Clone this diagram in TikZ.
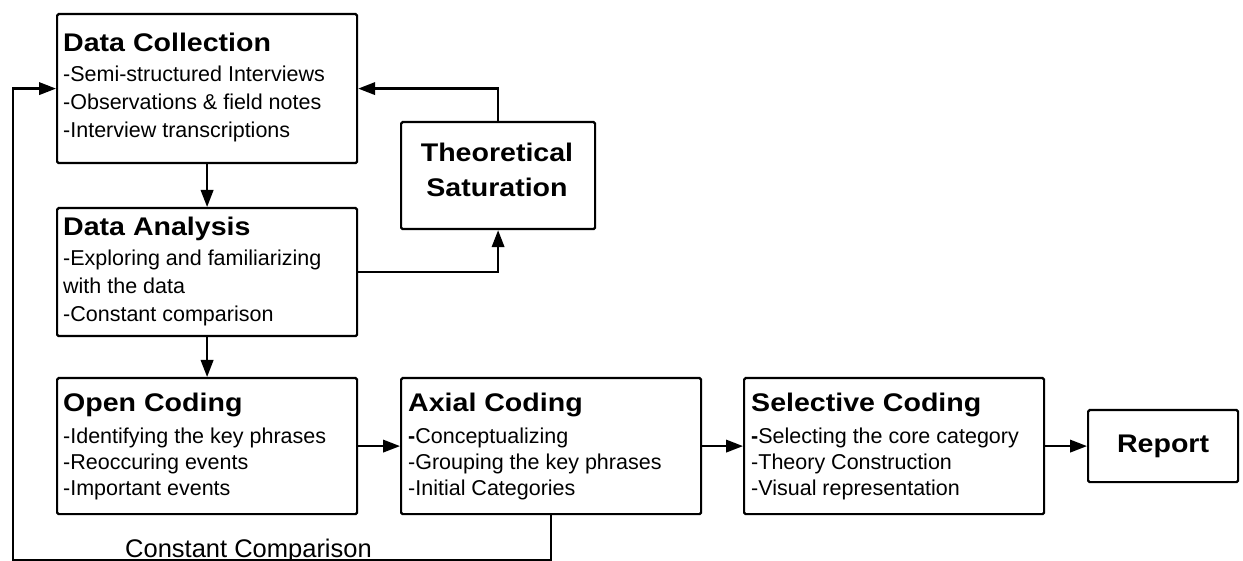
\documentclass[tikz,border=0pt]{standalone}
\usepackage{fontspec}
\setmainfont{Liberation Sans}
\newfontfamily\titlefont{Liberation Sans}[FakeStretch=1.12]
\usetikzlibrary{arrows.meta}
\begin{document}
\begin{tikzpicture}[x=1pt,y=-1pt,
  box/.style={draw, line width=2.2pt, rounded corners=1.5pt, inner sep=0pt, anchor=north west},
  conn/.style={line width=2.2pt, -{Triangle[length=17pt,width=12.5pt]}},
  ttl/.style={anchor=base west, inner sep=0pt, font=\titlefont\bfseries\fontsize{25.5}{30}\selectfont},
  ctr/.style={anchor=base, inner sep=0pt, font=\titlefont\bfseries\fontsize{25.5}{30}\selectfont},
  itm/.style={anchor=base west, inner sep=0pt, font=\fontsize{21.5}{26}\selectfont},
]
\useasboundingbox (0,0) rectangle (1243,561);
% boxes
\node[box, minimum width=300pt, minimum height=149pt] (dc) at (56,13) {};
\node[box, minimum width=300pt, minimum height=128pt] (da) at (56,207) {};
\node[box, minimum width=194pt, minimum height=107pt] (ts) at (400,121) {};
\node[box, minimum width=300pt, minimum height=136pt] (oc) at (56,377) {};
\node[box, minimum width=300pt, minimum height=136pt] (ac) at (400,377) {};
\node[box, minimum width=300pt, minimum height=136pt] (sc) at (743,377) {};
\node[box, minimum width=150pt, minimum height=72pt, font=\titlefont\bfseries\fontsize{25.5}{30}\selectfont] (rep) at (1087,409) {Report};
% texts
\node[ttl] (dct) at (63,52) {Data Collection};
\node[itm] (dc1) at (63,82) {-Semi-structured Interviews};
\node[itm] (dc2) at (63,110) {-Observations \& field notes};
\node[itm] (dc3) at (63,138) {-Interview transcriptions};
\node[ttl] (dat) at (63,236) {Data Analysis};
\node[itm] (da1) at (63,266) {-Exploring and familiarizing};
\node[itm] (da2) at (63,294) {with the data};
\node[itm] (da3) at (63,322) {-Constant comparison};
\node[ctr] (ts1) at (497,162) {Theoretical};
\node[ctr] (ts2) at (497,197) {Saturation};
\node[ttl] (oct) at (63,412) {Open Coding};
\node[itm] (oc1) at (63,443) {-Identifying the key phrases};
\node[itm] (oc2) at (63,469) {-Reoccuring events};
\node[itm] (oc3) at (63,495) {-Important events};
\node[ttl] (act) at (408,412) {Axial Coding};
\node[itm] (ac1) at (408,443) {\textbf{-}Conceptualizing};
\node[itm] (ac2) at (408,469) {-Grouping the key phrases};
\node[itm] (ac3) at (408,495) {-Initial Categories};
\node[ttl] (sct) at (751,412) {Selective Coding};
\node[itm] (sc1) at (751,443) {\textbf{-}Selecting the core category};
\node[itm] (sc2) at (751,469) {-Theory Construction};
\node[itm] (sc3) at (751,495) {-Visual representation};
\node[anchor=base west, inner sep=0pt, font=\fontsize{25.5}{29}\selectfont] (cc) at (125,557) {Constant Comparison};
% connectors
\draw[conn] (dc.south) -- (da.north);
\draw[conn] (da.south) -- (oc.north);
\draw[conn] (da.east) -| (ts.south);
\draw[conn] (ts.north) |- (dc.east);
\draw[conn] (oc.east) -- (ac.west);
\draw[conn] (ac.east) -- (sc.west);
\draw[conn] (sc.east) -- (rep.west);
\coordinate (bl) at (13,560);
\draw[conn] (ac.south) -- (ac.south |- bl) -- (bl) |- (dc.west);
\end{tikzpicture}
\end{document}
